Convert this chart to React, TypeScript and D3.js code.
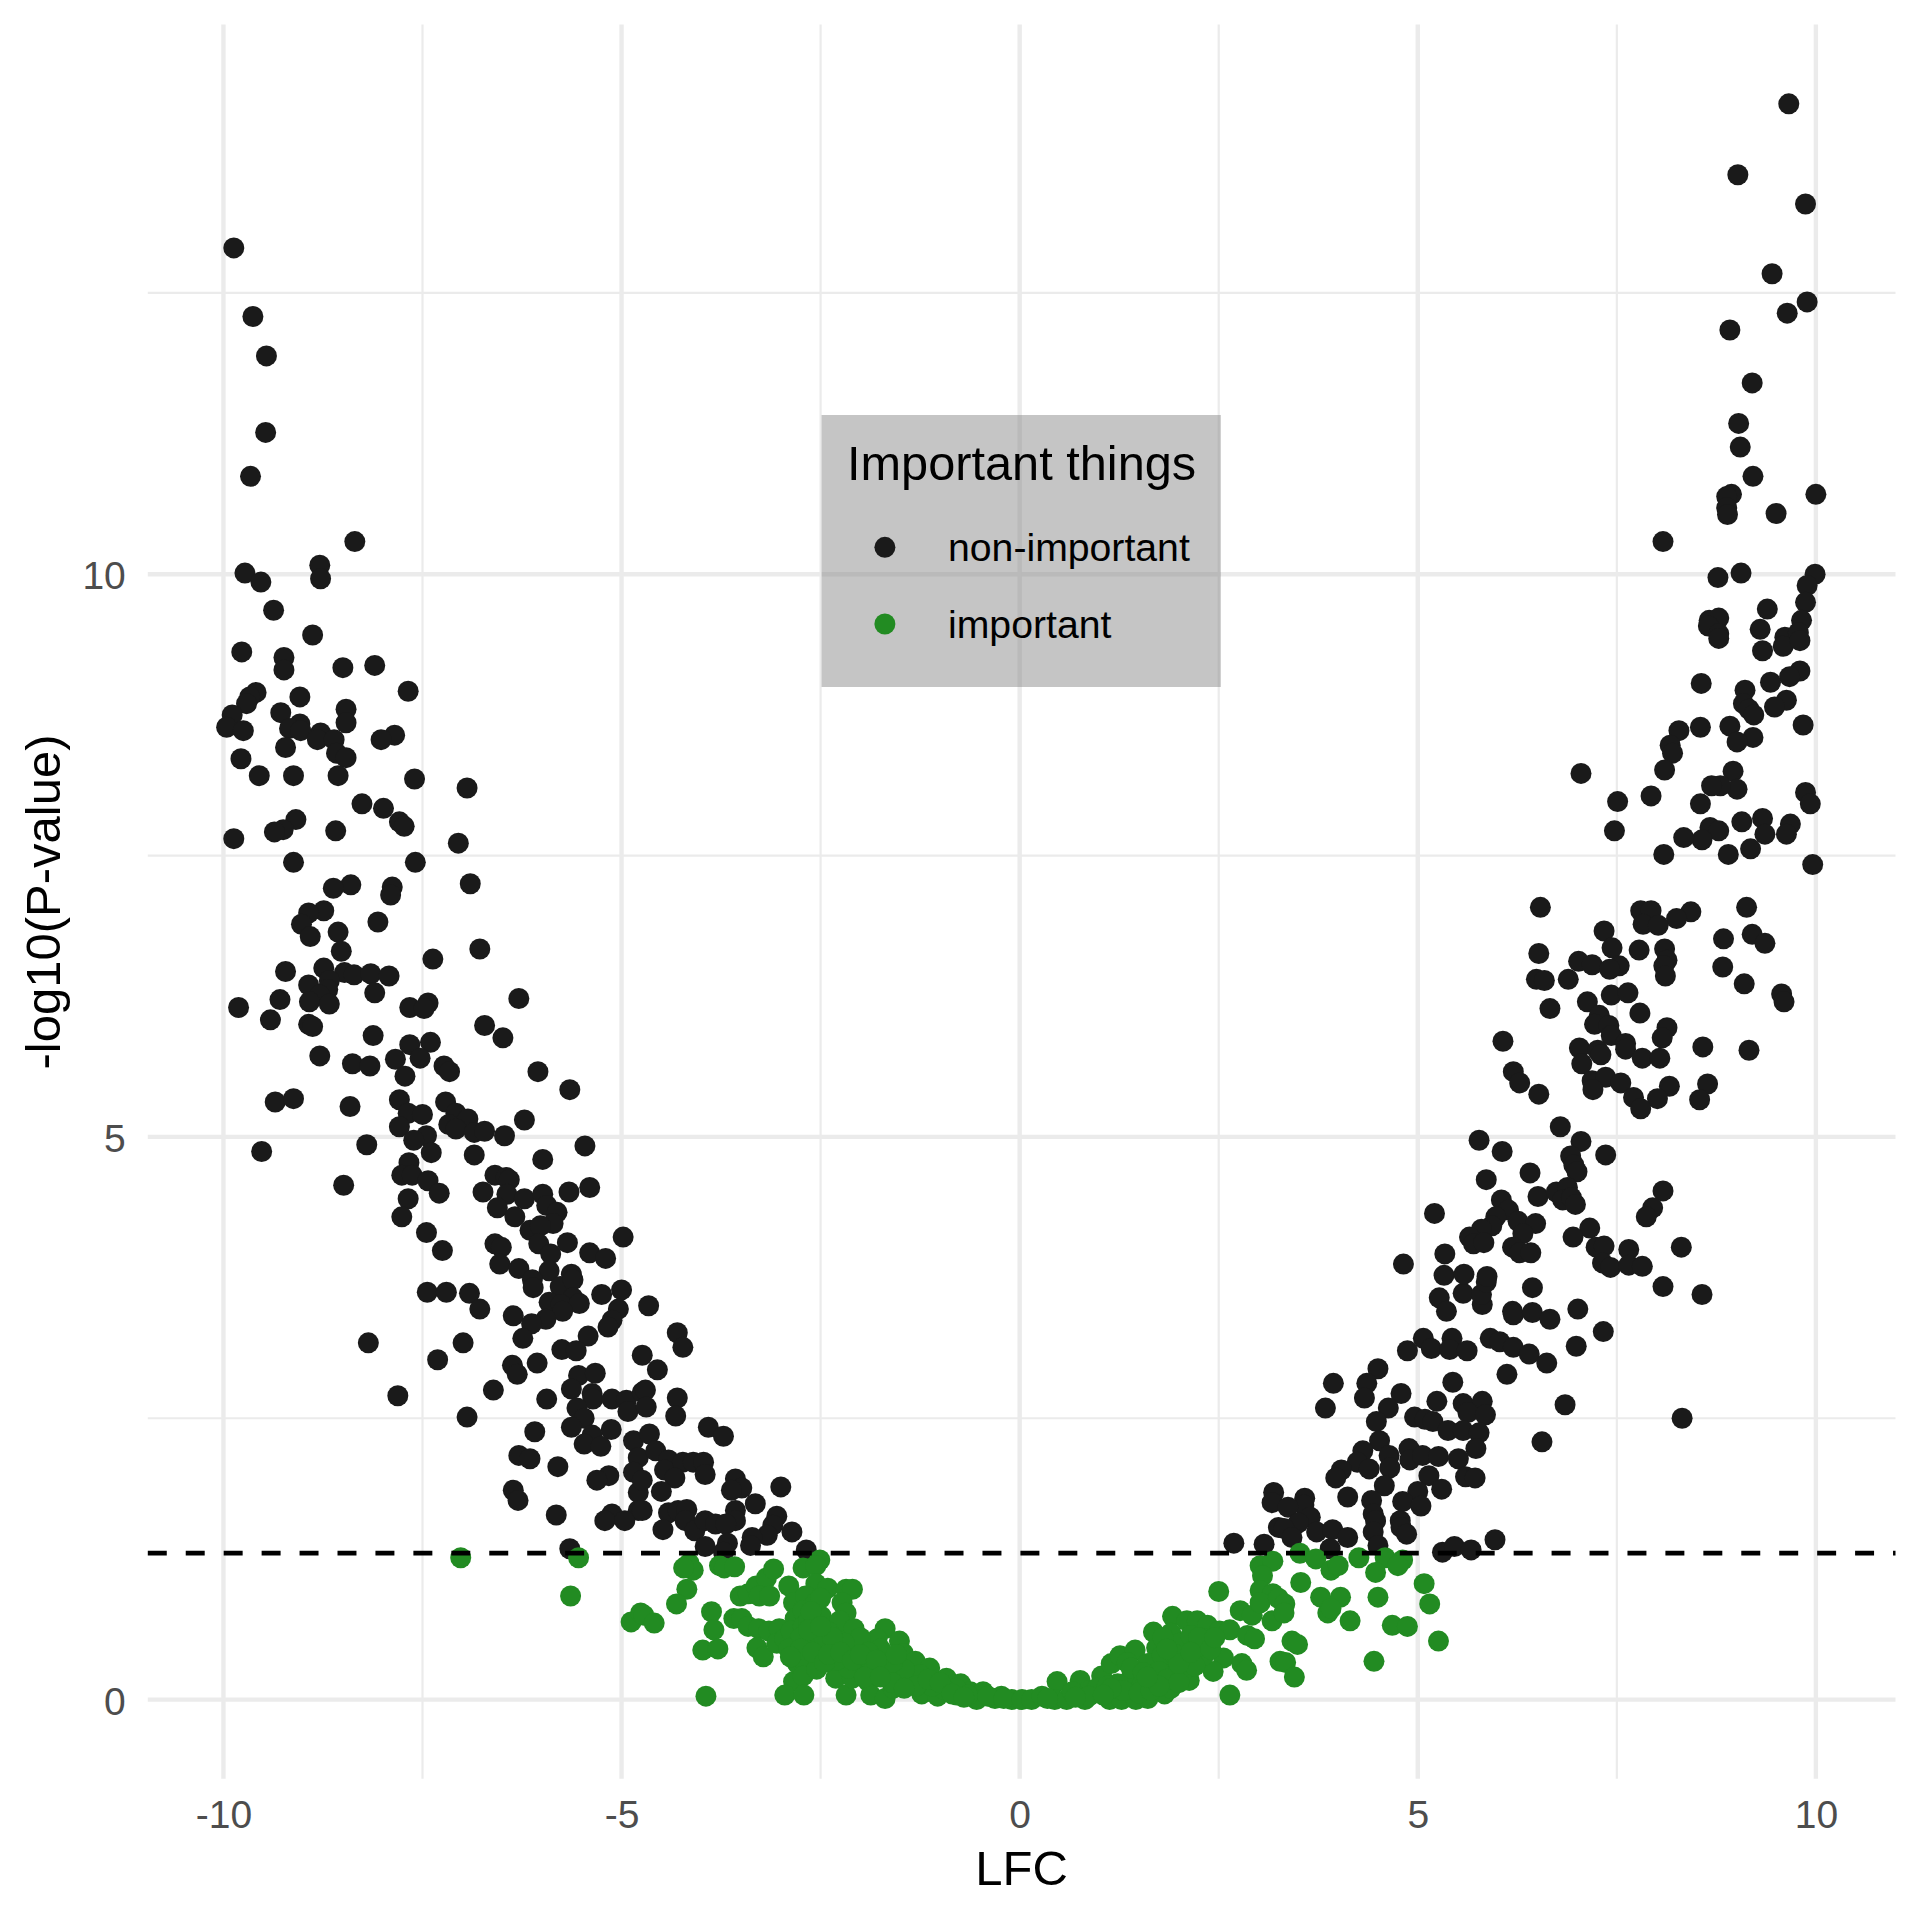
import { FC, useEffect, useRef } from 'react';
import * as d3 from 'd3';

type Point = [number, number]; // [LFC, -log10(P-value)]

const xTicks = [-10, -5, 0, 5, 10];
const yTicks = [0, 5, 10];
const xMinorTicks = [-7.5, -2.5, 2.5, 7.5];
const yMinorTicks = [2.5, 7.5, 12.5];
const significanceLine = 1.301;
const legendLabels = ['non-important', 'important'];

// non-important, left arm, top to bottom
const blackLeftHigh: Point[] = [
  [-9.87, 12.9], [-9.63, 12.29], [-9.46, 11.94], [-9.47, 11.26], [-9.66, 10.87], [-8.35, 10.29], [-8.79, 10.08], [-8.78, 9.96],
  [-9.73, 10.01], [-9.53, 9.93], [-9.37, 9.68], [-8.88, 9.46], [-9.77, 9.31], [-9.24, 9.26], [-9.24, 9.15], [-8.5, 9.17],
  [-8.1, 9.19], [-7.68, 8.96], [-9.59, 8.95], [-9.67, 8.91], [-9.71, 8.85], [-9.04, 8.91], [-8.46, 8.8], [-9.28, 8.77],
  [-8.46, 8.68], [-9.89, 8.75], [-9.96, 8.64], [-9.75, 8.61], [-9.04, 8.67], [-9.17, 8.63], [-9.03, 8.61], [-8.78, 8.59],
  [-8.82, 8.53], [-8.61, 8.53], [-7.85, 8.57], [-8.02, 8.53], [-9.22, 8.46], [-9.78, 8.36], [-8.58, 8.41], [-8.46, 8.37],
  [-9.55, 8.21], [-9.12, 8.21], [-8.56, 8.21], [-7.6, 8.18], [-6.94, 8.1], [-8.26, 7.96], [-7.99, 7.92], [-7.79, 7.8],
  [-7.73, 7.76], [-9.09, 7.82], [-9.25, 7.73], [-9.36, 7.71], [-8.59, 7.72], [-9.87, 7.65], [-7.05, 7.61], [-9.12, 7.44],
  [-7.59, 7.44], [-6.9, 7.25], [-8.4, 7.24], [-8.62, 7.21], [-7.88, 7.22], [-7.9, 7.15], [-8.74, 7.01], [-8.93, 6.99],
  [-9.02, 6.89], [-8.91, 6.78], [-8.06, 6.91], [-8.56, 6.82], [-8.52, 6.65], [-6.78, 6.67], [-7.37, 6.58], [-8.74, 6.5],
  [-9.22, 6.47], [-8.48, 6.46], [-8.36, 6.44], [-8.15, 6.45], [-7.92, 6.43], [-8.67, 6.39], [-8.93, 6.35], [-8.69, 6.31],
  [-8.1, 6.28], [-9.29, 6.22], [-6.29, 6.23], [-8.79, 6.26], [-8.92, 6.2], [-8.67, 6.18], [-9.81, 6.15], [-7.43, 6.19],
  [-7.66, 6.15], [-7.48, 6.14], [-9.41, 6.04], [-8.93, 6.0], [-8.88, 5.98], [-6.72, 5.99], [-6.49, 5.88], [-8.12, 5.9],
];

const blackLeftMid: Point[] = [
  [-7.66, 5.82], [-7.4, 5.84], [-8.79, 5.72], [-7.53, 5.7], [-7.84, 5.69], [-8.38, 5.65], [-8.16, 5.63], [-7.23, 5.63],
  [-7.16, 5.58], [-7.72, 5.54], [-6.05, 5.58], [-5.65, 5.42], [-9.35, 5.31], [-9.12, 5.34], [-8.41, 5.27], [-7.79, 5.33],
  [-7.21, 5.31], [-7.68, 5.21], [-7.5, 5.2], [-7.79, 5.09], [-7.08, 5.21], [-6.93, 5.16], [-7.17, 5.11], [-7.08, 5.07],
  [-7.45, 5.01], [-7.61, 4.97], [-6.85, 5.04], [-6.72, 5.05], [-6.47, 5.01], [-6.22, 5.15], [-9.52, 4.87], [-8.2, 4.93],
  [-7.39, 4.86], [-6.85, 4.84], [-5.99, 4.8], [-5.46, 4.92], [-7.67, 4.77], [-7.76, 4.66], [-7.63, 4.66], [-8.49, 4.57],
  [-7.43, 4.61], [-7.29, 4.5], [-6.59, 4.66], [-6.45, 4.64], [-6.41, 4.62], [-6.44, 4.49], [-6.74, 4.51], [-5.66, 4.51],
  [-5.4, 4.55], [-6.22, 4.45], [-5.99, 4.49], [-7.68, 4.45], [-6.56, 4.37], [-6.34, 4.29], [-5.94, 4.39], [-5.81, 4.33],
  [-7.76, 4.29], [-5.86, 4.23], [-6.15, 4.17], [-6.02, 4.21], [-7.45, 4.15], [-5.68, 4.06], [-6.04, 4.05], [-6.59, 4.05],
  [-6.51, 4.02], [-7.25, 3.99], [-5.89, 3.96], [-5.4, 3.97], [-5.2, 3.92], [-4.98, 4.11], [-6.53, 3.87], [-6.29, 3.83],
  [-5.91, 3.81], [-5.63, 3.78], [-6.12, 3.73],
];

const blackLeftLow: Point[] = [
  [-7.44, 3.62], [-7.2, 3.62], [-6.91, 3.61], [-6.78, 3.47], [-6.36, 3.41], [-6.11, 3.66], [-5.77, 3.67], [-5.61, 3.73],
  [-5.91, 3.53], [-5.61, 3.57], [-5.76, 3.51], [-5.53, 3.52], [-5.74, 3.45], [-5.95, 3.38], [-6.13, 3.34], [-6.24, 3.21],
  [-5.25, 3.6], [-5.0, 3.64], [-5.04, 3.47], [-5.12, 3.37], [-5.17, 3.31], [-5.42, 3.23], [-5.75, 3.11], [-5.57, 3.1],
  [-8.18, 3.17], [-6.99, 3.17], [-7.31, 3.02], [-6.37, 2.97], [-6.31, 2.89], [-6.06, 2.99], [-5.54, 2.88], [-5.33, 2.9],
  [-7.81, 2.7], [-6.61, 2.75], [-5.94, 2.67], [-5.63, 2.76], [-5.37, 2.72], [-5.36, 2.67], [-5.12, 2.67], [-4.94, 2.66],
  [-4.74, 2.73], [-4.92, 2.56], [-5.56, 2.59], [-5.47, 2.5], [-6.94, 2.51], [-5.63, 2.42], [-5.13, 2.4], [-6.09, 2.38],
  [-5.37, 2.35], [-5.47, 2.27], [-5.26, 2.25], [-4.85, 2.3], [-6.29, 2.17], [-6.15, 2.14], [-5.8, 2.07], [-4.79, 2.15],
  [-4.85, 2.02], [-5.16, 1.99], [-5.31, 1.95], [-6.36, 1.86], [-6.3, 1.77], [-4.79, 1.84], [-4.79, 1.68], [-5.82, 1.64],
  [-5.12, 1.65], [-5.21, 1.59], [-4.96, 1.59], [-5.65, 1.34], [-4.66, 3.5], [-4.3, 3.26], [-4.23, 3.13], [-4.74, 3.06],
  [-4.55, 2.93], [-4.7, 2.75], [-4.69, 2.6], [-4.3, 2.68], [-4.32, 2.52], [-3.91, 2.42], [-3.72, 2.34], [-4.65, 2.36],
  [-4.57, 2.21], [-4.41, 2.13], [-4.46, 2.04], [-4.23, 2.11], [-4.1, 2.11], [-3.97, 2.11], [-3.95, 2.0], [-4.33, 1.97],
  [-4.74, 1.95], [-4.5, 1.85], [-3.57, 1.96], [-3.49, 1.88], [-3.62, 1.86], [-3.0, 1.89], [-3.32, 1.74], [-4.41, 1.66],
  [-4.29, 1.68], [-4.18, 1.69], [-4.2, 1.59], [-4.08, 1.5], [-3.95, 1.59], [-3.82, 1.56], [-3.57, 1.68], [-3.57, 1.59],
  [-3.69, 1.56], [-3.05, 1.63], [-3.1, 1.55], [-3.17, 1.46], [-2.86, 1.49], [-4.48, 1.51], [-3.36, 1.44], [-3.38, 1.37],
  [-3.67, 1.39], [-3.72, 1.31], [-3.95, 1.36], [-2.68, 1.33], [-4.74, 1.68],
];

// non-important, right arm, bottom to top
const blackRightLow: Point[] = [
  [2.69, 1.39], [3.07, 1.38], [3.19, 1.84], [3.17, 1.75], [3.25, 1.53], [5.27, 3.57], [5.36, 3.45], [5.57, 3.61],
  [5.81, 3.51], [5.8, 3.6], [5.86, 3.71], [6.44, 3.66], [6.19, 3.45], [6.2, 3.42], [6.44, 3.44], [6.66, 3.38],
  [7.01, 3.47], [7.33, 3.27], [6.99, 3.14], [8.08, 3.67], [8.57, 3.6], [5.91, 3.21], [6.03, 3.18], [6.2, 3.13],
  [6.4, 3.07], [6.62, 2.99], [6.12, 2.89], [6.85, 2.62], [8.32, 2.5], [6.56, 2.29], [5.07, 3.21], [5.17, 3.12],
  [4.87, 3.1], [5.43, 3.21], [5.4, 3.11], [5.62, 3.1], [4.5, 2.94], [4.36, 2.81], [3.94, 2.81], [4.33, 2.68],
  [3.84, 2.59], [4.79, 2.72], [4.63, 2.59], [4.48, 2.47], [5.44, 2.82], [5.24, 2.65], [5.57, 2.63], [5.81, 2.65],
  [5.63, 2.55], [5.85, 2.53], [4.96, 2.51], [5.09, 2.49], [5.19, 2.47], [5.38, 2.39], [5.57, 2.39], [5.77, 2.37],
  [4.52, 2.3], [4.31, 2.21], [4.24, 2.11], [4.39, 2.05], [4.64, 2.17], [4.65, 2.06], [4.89, 2.23], [4.9, 2.13],
  [5.06, 2.17], [5.26, 2.16], [5.73, 2.23], [5.51, 2.14], [4.04, 2.04], [3.97, 1.97], [5.14, 1.99], [5.6, 1.98],
  [5.72, 1.97], [4.58, 1.9], [5.3, 1.87], [4.12, 1.8], [4.42, 1.77], [5.0, 1.85], [4.81, 1.76], [5.04, 1.72],
  [3.58, 1.79], [3.57, 1.73], [3.37, 1.71], [4.44, 1.65], [4.47, 1.59], [4.78, 1.59], [3.65, 1.62], [3.5, 1.57],
  [3.32, 1.52], [4.79, 1.53], [4.86, 1.47], [3.42, 1.44], [3.73, 1.49], [3.93, 1.51], [4.12, 1.44], [4.44, 1.49],
  [4.5, 1.37], [3.9, 1.34], [5.31, 1.31], [5.46, 1.36], [5.67, 1.33], [5.97, 1.42],
];

const blackRightMid: Point[] = [
  [6.54, 7.04], [7.8, 7.01], [7.93, 7.01], [8.43, 7.0], [8.25, 6.94], [7.83, 6.89], [8.02, 6.88], [9.13, 7.04],
  [9.2, 6.8], [9.36, 6.72], [8.84, 6.76], [7.34, 6.83], [7.44, 6.68], [7.78, 6.66], [8.1, 6.67], [8.13, 6.57],
  [8.09, 6.52], [8.11, 6.43], [6.52, 6.63], [7.02, 6.56], [7.19, 6.53], [7.53, 6.52], [7.41, 6.49], [8.83, 6.51],
  [6.49, 6.4], [6.59, 6.39], [6.89, 6.4], [9.1, 6.36], [7.43, 6.26], [7.64, 6.28], [9.57, 6.27], [9.6, 6.2],
  [7.13, 6.2], [6.66, 6.14], [7.79, 6.1], [7.28, 6.08], [7.22, 6.0], [7.4, 5.99], [8.13, 5.97], [8.07, 5.88],
  [7.43, 5.9], [6.07, 5.85], [7.61, 5.83], [7.61, 5.78], [7.03, 5.79], [7.26, 5.77], [7.3, 5.73], [8.58, 5.8],
  [9.16, 5.77], [7.82, 5.7], [8.04, 5.7], [7.06, 5.65], [6.2, 5.58], [6.28, 5.48], [6.52, 5.38], [7.19, 5.5],
  [7.36, 5.53], [7.55, 5.48], [7.2, 5.42], [8.64, 5.47], [8.54, 5.33], [8.16, 5.45], [8.01, 5.34], [7.71, 5.35],
  [7.8, 5.25], [6.79, 5.09], [5.77, 4.97], [7.05, 4.96], [6.06, 4.87], [7.36, 4.84], [6.92, 4.83], [6.96, 4.75],
  [7.0, 4.69], [6.41, 4.68], [5.86, 4.62], [8.08, 4.52], [7.95, 4.37], [7.87, 4.29], [6.51, 4.47], [6.74, 4.51],
  [6.88, 4.55], [6.82, 4.44], [6.93, 4.46], [6.98, 4.4], [6.05, 4.44], [6.14, 4.35], [5.98, 4.29], [6.26, 4.25],
  [5.93, 4.21], [5.8, 4.18], [6.48, 4.23], [6.32, 4.14], [5.21, 4.32], [5.65, 4.11], [5.7, 4.05], [5.83, 4.06],
  [6.19, 4.02], [6.28, 3.97], [6.42, 3.97], [7.16, 4.19], [6.95, 4.11], [7.24, 4.02], [7.34, 4.03], [7.32, 3.88],
  [7.42, 3.84], [7.65, 4.0], [7.65, 3.86], [7.82, 3.85], [8.31, 4.02], [5.34, 3.96], [4.82, 3.87], [5.33, 3.77],
  [5.58, 3.78], [5.87, 3.76],
];

const blackRightHigh: Point[] = [
  [9.66, 14.18], [9.02, 13.55], [9.87, 13.29], [9.45, 12.67], [9.89, 12.42], [9.64, 12.32], [8.92, 12.17], [9.2, 11.7],
  [9.03, 11.34], [9.05, 11.13], [9.21, 10.87], [8.94, 10.71], [8.88, 10.69], [8.88, 10.59], [8.89, 10.53], [9.5, 10.54],
  [10.0, 10.71], [8.08, 10.29], [8.77, 9.97], [9.06, 10.01], [9.99, 10.0], [9.89, 9.9], [9.87, 9.75], [9.39, 9.69],
  [9.82, 9.59], [8.66, 9.59], [8.78, 9.61], [8.65, 9.54], [8.78, 9.47], [9.3, 9.51], [9.61, 9.44], [9.78, 9.48],
  [8.78, 9.43], [9.33, 9.32], [9.59, 9.36], [9.8, 9.41], [9.8, 9.14], [9.67, 9.09], [9.43, 9.04], [8.56, 9.03],
  [9.11, 8.97], [9.09, 8.85], [9.16, 8.8], [9.22, 8.75], [9.63, 8.88], [9.48, 8.82], [9.84, 8.66], [8.28, 8.61],
  [8.55, 8.64], [8.92, 8.65], [9.21, 8.55], [9.01, 8.51], [8.17, 8.48], [8.2, 8.41], [8.1, 8.26], [8.96, 8.25],
  [9.01, 8.09], [8.8, 8.12], [8.69, 8.12], [7.05, 8.23], [7.51, 7.98], [7.93, 8.03], [7.47, 7.72], [8.55, 7.96],
  [9.87, 8.06], [9.93, 7.96], [8.67, 7.75], [8.78, 7.72], [8.57, 7.64], [8.34, 7.66], [9.07, 7.8], [9.33, 7.83],
  [9.36, 7.69], [9.68, 7.78], [9.63, 7.69], [9.18, 7.56], [8.9, 7.51], [8.09, 7.51], [9.96, 7.42],
];

// important, left of zero
const greenLeft: Point[] = [
  [-7.02, 1.26], [-5.54, 1.26], [-5.64, 0.92], [-4.88, 0.69], [-4.76, 0.77], [-4.72, 0.75], [-4.59, 0.68], [-4.18, 1.19],
  [-4.15, 1.21], [-4.1, 1.15], [-4.22, 1.17], [-4.18, 0.98], [-4.31, 0.85], [-3.77, 1.19], [-3.71, 1.17], [-3.58, 1.18],
  [-3.87, 0.78], [-3.84, 0.62], [-3.98, 0.44], [-3.79, 0.45], [-3.94, 0.03], [-3.51, 0.92], [-3.41, 0.94], [-3.31, 1.01],
  [-3.18, 1.08], [-3.09, 1.16], [-3.27, 0.92], [-3.14, 0.92], [-3.59, 0.72], [-3.49, 0.72], [-3.41, 0.65], [-3.28, 0.63],
  [-3.15, 0.61], [-3.02, 0.63], [-3.3, 0.46], [-3.22, 0.38], [-3.05, 0.5], [-2.95, 0.54], [-2.9, 1.01], [-2.84, 0.86],
  [-2.82, 0.72], [-2.87, 0.61], [-2.79, 0.5], [-2.79, 0.32], [-2.72, 1.17], [-2.51, 1.24], [-2.56, 1.19], [-2.56, 1.03],
  [-2.41, 0.99], [-2.69, 0.92], [-2.56, 0.86], [-2.72, 0.79], [-2.49, 0.74], [-2.72, 0.65], [-2.56, 0.57], [-2.31, 0.63],
  [-2.66, 0.46], [-2.51, 0.37], [-2.69, 0.3], [-2.84, 0.16], [-2.72, 0.21], [-2.95, 0.04], [-2.71, 0.04], [-2.18, 0.98],
  [-2.1, 0.98], [-2.23, 0.86], [-2.18, 0.77], [-2.26, 0.7], [-2.08, 0.63], [-2.36, 0.46], [-2.2, 0.39], [-2.31, 0.19],
  [-2.18, 0.04], [-2.05, 0.45], [-1.97, 0.32], [-2.1, 0.19], [-1.9, 0.16], [-1.87, 0.04], [-1.69, 0.01], [-1.69, 0.63],
  [-1.79, 0.54], [-1.51, 0.52], [-1.69, 0.39], [-1.46, 0.41], [-1.69, 0.25], [-1.57, 0.25], [-1.31, 0.34], [-1.13, 0.28],
  [-1.38, 0.21], [-1.21, 0.14], [-1.23, 0.05], [-1.03, 0.03], [-0.92, 0.19], [-0.79, 0.04], [-0.74, 0.14], [-0.62, 0.07],
  [-0.46, 0.07], [-0.54, 0.0], [-0.31, 0.01], [-0.23, 0.03], [-0.1, 0.0], [-1.59, 0.1], [-1.44, 0.16], [-0.8, 0.1],
  [-0.95, 0.09], [-1.1, 0.12], [-1.25, 0.22], [-1.45, 0.27], [-1.6, 0.33], [-1.75, 0.45], [-1.85, 0.3], [-2.0, 0.55],
  [-2.15, 0.28], [-2.3, 0.35], [-2.45, 0.45], [-2.55, 0.27], [-2.4, 0.6], [-2.65, 0.7], [-2.6, 0.55], [-2.5, 0.9],
  [-2.45, 0.55], [-2.75, 0.55], [-1.95, 0.2], [-1.6, 0.15], [-1.3, 0.12], [-0.65, 0.04], [-0.4, 0.03], [-0.2, 0.01],
  [-2.9, 0.45], [-2.2, 0.5], [-1.9, 0.42], [-2.62, 0.78], [-2.75, 0.45], [-2.6, 0.42], [-2.45, 0.33], [-2.35, 0.55],
  [-2.88, 0.38], [-2.65, 0.62], [-2.5, 0.65], [-2.4, 0.4], [-2.25, 0.42], [-2.1, 0.35], [-2.0, 0.4], [-1.8, 0.35],
  [-1.55, 0.4], [-1.75, 0.2], [-1.45, 0.1], [-1.15, 0.18], [-1.0, 0.15], [-0.85, 0.05], [-0.7, 0.02],
];

// important, right of zero
const greenRight: Point[] = [
  [0.03, 0.0], [0.15, 0.0], [0.28, 0.03], [0.47, 0.16], [0.44, 0.0], [0.59, 0.0], [0.76, 0.17], [0.82, 0.0],
  [0.87, 0.08], [1.03, 0.21], [1.13, 0.0], [1.15, 0.32], [1.26, 0.39], [1.45, 0.44], [1.35, 0.33], [1.28, 0.0],
  [1.46, 0.0], [1.61, 0.01], [1.82, 0.05], [1.9, 0.1], [1.68, 0.6], [1.92, 0.74], [2.1, 0.7], [2.23, 0.7],
  [2.36, 0.66], [1.72, 0.46], [1.61, 0.32], [1.9, 0.59], [2.0, 0.5], [2.15, 0.57], [2.33, 0.54], [2.51, 0.61],
  [2.64, 0.62], [2.56, 0.37], [2.43, 0.25], [2.13, 0.17], [1.9, 0.28], [2.1, 0.36], [2.31, 0.39], [1.79, 0.39],
  [2.5, 0.96], [2.77, 0.79], [2.92, 0.75], [2.86, 0.57], [2.95, 0.54], [2.79, 0.32], [2.85, 0.26], [2.64, 0.04],
  [3.02, 1.19], [3.18, 1.23], [3.05, 1.1], [3.02, 0.97], [3.18, 0.94], [3.02, 0.86], [3.17, 0.7], [3.25, 0.9],
  [3.27, 0.34], [0.66, 0.07], [0.97, 0.1], [1.23, 0.14], [1.38, 0.17], [1.54, 0.14], [1.69, 0.19], [0.87, 0.03],
  [1.1, 0.12], [1.3, 0.08], [1.5, 0.06], [1.75, 0.25], [1.85, 0.18], [1.95, 0.4], [2.05, 0.25], [2.2, 0.45],
  [2.0, 0.15], [1.8, 0.55], [2.2, 0.3], [3.52, 1.3], [3.72, 1.25], [3.91, 1.15], [4.0, 1.19], [4.26, 1.26],
  [4.59, 1.26], [4.81, 1.24], [4.75, 1.19], [4.47, 1.13], [3.53, 1.04], [5.08, 1.03], [4.5, 0.91], [5.15, 0.85],
  [3.78, 0.91], [4.03, 0.91], [3.87, 0.77], [3.91, 0.81], [4.15, 0.7], [4.68, 0.66], [4.87, 0.65], [3.33, 0.85],
  [3.32, 0.77], [3.42, 0.52], [3.49, 0.49], [3.34, 0.33], [3.45, 0.2], [4.45, 0.34], [5.26, 0.52], [1.15, 0.1],
  [1.4, 0.28], [1.55, 0.24], [1.65, 0.08], [1.75, 0.12], [2.0, 0.32], [2.25, 0.55], [2.15, 0.42], [1.85, 0.45],
  [2.4, 0.45], [1.05, 0.04], [0.7, 0.02], [0.35, 0.01], [2.45, 0.55], [1.6, 0.2],
];

const nonImportant = [...blackLeftHigh, ...blackLeftMid, ...blackLeftLow, ...blackRightLow, ...blackRightMid, ...blackRightHigh];
const important = [...greenLeft, ...greenRight];

const colors = { black: '#1a1a1a', green: '#228b22' };
const font = '"Liberation Sans", Arial, sans-serif';
const dotRadius = 10.5;

const VolcanoPlot: FC = () => {
  const svgRef = useRef<SVGSVGElement>(null);

  useEffect(() => {
    if (!svgRef.current) return;

    const panel = { left: 147.8, right: 1895.5, top: 24.5, bottom: 1778.8 };

    d3.select(svgRef.current).selectAll('*').remove();
    const svg = d3.select(svgRef.current);

    const x = d3.scaleLinear().domain([-10.95, 11]).range([panel.left, panel.right]);
    const y = d3.scaleLinear().domain([-0.704, 14.885]).range([panel.bottom, panel.top]);

    // Grid, minor lines under major lines
    const grid = svg.append('g').attr('stroke', '#ebebeb').attr('fill', 'none');
    const vLines = (ticks: number[], w: number) =>
      grid
        .selectAll(null)
        .data(ticks)
        .enter()
        .append('line')
        .attr('x1', d => x(d))
        .attr('x2', d => x(d))
        .attr('y1', panel.top)
        .attr('y2', panel.bottom)
        .attr('stroke-width', w);
    const hLines = (ticks: number[], w: number) =>
      grid
        .selectAll(null)
        .data(ticks)
        .enter()
        .append('line')
        .attr('x1', panel.left)
        .attr('x2', panel.right)
        .attr('y1', d => y(d))
        .attr('y2', d => y(d))
        .attr('stroke-width', w);
    hLines(yMinorTicks, 2.2);
    vLines(xMinorTicks, 2.2);
    hLines(yTicks, 4.4);
    vLines(xTicks, 4.4);

    // Axes: labels only, theme_minimal has no ticks or axis lines
    const xAxis = svg
      .append('g')
      .attr('transform', `translate(0,${panel.bottom})`)
      .call(d3.axisBottom(x).tickValues(xTicks).tickSize(0).tickPadding(22).tickFormat(d => String(d)));
    const yAxis = svg
      .append('g')
      .attr('transform', `translate(${panel.left},0)`)
      .call(d3.axisLeft(y).tickValues(yTicks).tickSize(0).tickPadding(22).tickFormat(d => String(d)));
    [xAxis, yAxis].forEach(axis => {
      axis.select('.domain').remove();
      axis.selectAll('text').attr('font-family', font).attr('font-size', 39).attr('fill', '#4d4d4d');
    });
    yAxis.selectAll('text').attr('dy', '0.37em');

    svg
      .append('text')
      .attr('x', 1021.6)
      .attr('y', 1885)
      .attr('text-anchor', 'middle')
      .attr('font-family', font)
      .attr('font-size', 49)
      .text('LFC');
    svg
      .append('text')
      .attr('transform', 'translate(60,902) rotate(-90)')
      .attr('text-anchor', 'middle')
      .attr('font-family', font)
      .attr('font-size', 49)
      .text('-log10(P-value)');

    // Points
    const drawPoints = (points: Point[], color: string) =>
      svg
        .append('g')
        .selectAll('circle')
        .data(points)
        .enter()
        .append('circle')
        .attr('cx', d => x(d[0]))
        .attr('cy', d => y(d[1]))
        .attr('r', dotRadius)
        .attr('fill', color);
    drawPoints(nonImportant, colors.black);
    drawPoints(important, colors.green);

    // Threshold line
    svg
      .append('line')
      .attr('x1', panel.left)
      .attr('x2', panel.right)
      .attr('y1', y(significanceLine))
      .attr('y2', y(significanceLine))
      .attr('stroke', '#000')
      .attr('stroke-width', 4.6)
      .attr('stroke-dasharray', '18.97 18.97');

    // Legend
    const legend = svg.append('g');
    legend
      .append('rect')
      .attr('x', 821.6)
      .attr('y', 415)
      .attr('width', 399.2)
      .attr('height', 272)
      .attr('fill', '#7f7f7f')
      .attr('fill-opacity', 0.45);
    legend
      .append('text')
      .attr('x', 1021.6)
      .attr('y', 479.6)
      .attr('text-anchor', 'middle')
      .attr('font-family', font)
      .attr('font-size', 48.7)
      .text('Important things');
    legendLabels.forEach((label, i) => {
      const cy = 547.3 + i * 76.7;
      legend
        .append('circle')
        .attr('cx', 884.9)
        .attr('cy', cy)
        .attr('r', dotRadius)
        .attr('fill', i === 0 ? colors.black : colors.green);
      legend
        .append('text')
        .attr('x', 948)
        .attr('y', cy + 13.8)
        .attr('font-family', font)
        .attr('font-size', 39.2)
        .text(label);
    });
  }, []);

  return <svg ref={svgRef} width={1920} height={1920} style={{ position: 'absolute', left: 0, top: 0, background: '#fff' }} />;
};

export default function App() {
  return <VolcanoPlot />;
}
